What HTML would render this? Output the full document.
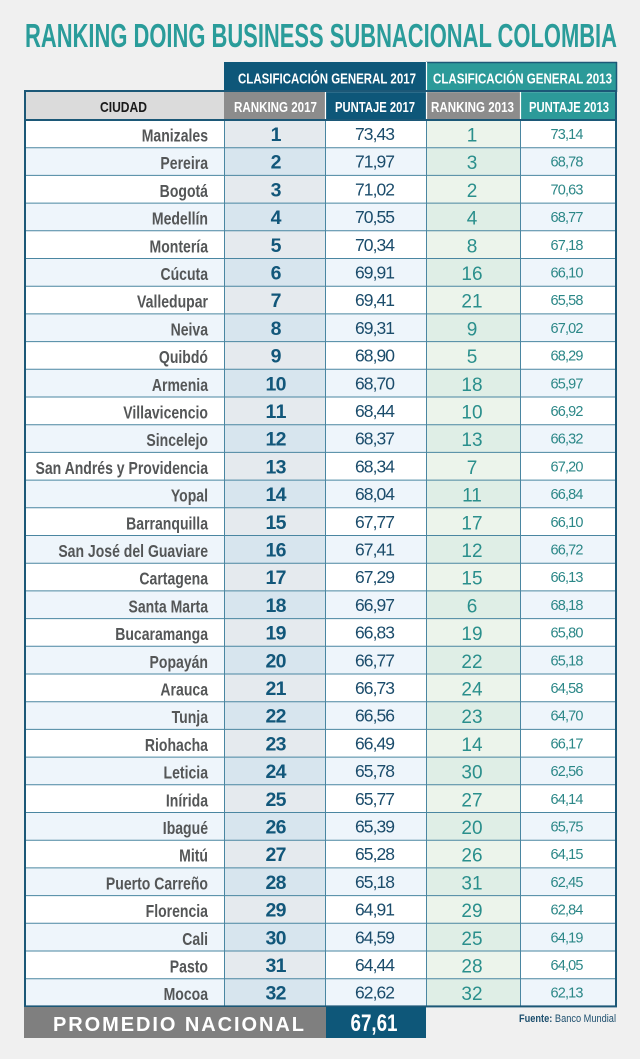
<!DOCTYPE html>
<html><head><meta charset="utf-8">
<style>
html,body{margin:0;padding:0;background:#f0f0f0;}
svg{display:block;}
text{font-family:"Liberation Sans",Arial,sans-serif;}
.t{font-weight:bold;font-size:33px;fill:#2a9c9a;}
.h{font-weight:bold;font-size:14.5px;fill:#fff;text-anchor:middle;}
.hc{font-weight:bold;font-size:15px;fill:#1a1a1a;text-anchor:middle;}
.a .bg{fill:#ffffff}.b .bg{fill:#eef5fb}
.a .k{fill:#e5eaee}.b .k{fill:#d7e5ee}
.a .g{fill:#ecf4eb}.b .g{fill:#dfeee6}
.c{font-weight:bold;font-size:18px;fill:#545657;text-anchor:end;}
.r{font-weight:bold;font-size:19.5px;fill:#12577a;text-anchor:middle;}
.p{font-size:17.5px;fill:#1b4c6b;text-anchor:middle;}
.r3{font-size:19px;fill:#2a8f8c;text-anchor:middle;}
.p3{font-size:14.5px;fill:#2b8787;text-anchor:middle;}
</style></head>
<body>
<svg width="640" height="1059" viewBox="0 0 640 1059" xmlns="http://www.w3.org/2000/svg">
<rect width="640" height="1059" fill="#f0f0f0"/>
<text class="t" x="25" y="47" textLength="592" lengthAdjust="spacingAndGlyphs">RANKING DOING BUSINESS SUBNACIONAL COLOMBIA</text>

<!-- header row 1 -->
<rect x="224" y="62" width="202" height="30" fill="#0e5779"/>
<rect x="426" y="62" width="191" height="30" fill="#2c9a99"/>
<path d="M426 62.5H617M616.5 62V92" stroke="#1c5877" stroke-width="1.5" fill="none"/>
<text class="h" x="327" y="83.5" textLength="178" lengthAdjust="spacingAndGlyphs">CLASIFICACIÓN GENERAL 2017</text>
<text class="h" x="522.5" y="83.5" textLength="179" lengthAdjust="spacingAndGlyphs">CLASIFICACIÓN GENERAL 2013</text>

<!-- header row 2 -->
<rect x="25" y="92" width="199" height="28" fill="#dbdbdb"/>
<rect x="224" y="92" width="101" height="28" fill="#8c8c8c"/>
<rect x="325" y="92" width="101" height="28" fill="#0e5779"/>
<rect x="426" y="92" width="94" height="28" fill="#8c8c8c"/>
<rect x="520" y="92" width="97" height="28" fill="#2c9a99"/>
<path d="M325 91.5H617M325.5 92V120M426.5 62V120M520.5 92V120" stroke="#ffffff" stroke-width="1.2" fill="none"/>
<text class="hc" x="123.5" y="112" textLength="47" lengthAdjust="spacingAndGlyphs">CIUDAD</text>
<text class="h" x="275.5" y="112" textLength="83" lengthAdjust="spacingAndGlyphs">RANKING 2017</text>
<text class="h" x="375" y="112" textLength="80" lengthAdjust="spacingAndGlyphs">PUNTAJE 2017</text>
<text class="h" x="472.5" y="112" textLength="83" lengthAdjust="spacingAndGlyphs">RANKING 2013</text>
<text class="h" x="569" y="112" textLength="80" lengthAdjust="spacingAndGlyphs">PUNTAJE 2013</text>

<!-- rows -->
<g class="a" transform="translate(0,120)"><rect class="bg" x="24" width="593" height="27.7"/><rect class="k" x="224" width="101" height="27.7"/><rect class="g" x="426" width="94" height="27.7"/><text class="c" transform="translate(208 21.5) scale(.78 1)">Manizales</text><text class="r" x="276" y="21">1</text><text class="p" x="375" y="20" textLength="40">73,43</text><text class="r3" x="472" y="21.5">1</text><text class="p3" x="567" y="19" textLength="33">73,14</text></g>
<g class="b" transform="translate(0,147.7)"><rect class="bg" x="24" width="593" height="27.7"/><rect class="k" x="224" width="101" height="27.7"/><rect class="g" x="426" width="94" height="27.7"/><text class="c" transform="translate(208 21.5) scale(.78 1)">Pereira</text><text class="r" x="276" y="21">2</text><text class="p" x="375" y="20" textLength="40">71,97</text><text class="r3" x="472" y="21.5">3</text><text class="p3" x="567" y="19" textLength="33">68,78</text></g>
<g class="a" transform="translate(0,175.4)"><rect class="bg" x="24" width="593" height="27.7"/><rect class="k" x="224" width="101" height="27.7"/><rect class="g" x="426" width="94" height="27.7"/><text class="c" transform="translate(208 21.5) scale(.78 1)">Bogotá</text><text class="r" x="276" y="21">3</text><text class="p" x="375" y="20" textLength="40">71,02</text><text class="r3" x="472" y="21.5">2</text><text class="p3" x="567" y="19" textLength="33">70,63</text></g>
<g class="b" transform="translate(0,203.1)"><rect class="bg" x="24" width="593" height="27.7"/><rect class="k" x="224" width="101" height="27.7"/><rect class="g" x="426" width="94" height="27.7"/><text class="c" transform="translate(208 21.5) scale(.78 1)">Medellín</text><text class="r" x="276" y="21">4</text><text class="p" x="375" y="20" textLength="40">70,55</text><text class="r3" x="472" y="21.5">4</text><text class="p3" x="567" y="19" textLength="33">68,77</text></g>
<g class="a" transform="translate(0,230.8)"><rect class="bg" x="24" width="593" height="27.7"/><rect class="k" x="224" width="101" height="27.7"/><rect class="g" x="426" width="94" height="27.7"/><text class="c" transform="translate(208 21.5) scale(.78 1)">Montería</text><text class="r" x="276" y="21">5</text><text class="p" x="375" y="20" textLength="40">70,34</text><text class="r3" x="472" y="21.5">8</text><text class="p3" x="567" y="19" textLength="33">67,18</text></g>
<g class="b" transform="translate(0,258.5)"><rect class="bg" x="24" width="593" height="27.7"/><rect class="k" x="224" width="101" height="27.7"/><rect class="g" x="426" width="94" height="27.7"/><text class="c" transform="translate(208 21.5) scale(.78 1)">Cúcuta</text><text class="r" x="276" y="21">6</text><text class="p" x="375" y="20" textLength="40">69,91</text><text class="r3" x="472" y="21.5">16</text><text class="p3" x="567" y="19" textLength="33">66,10</text></g>
<g class="a" transform="translate(0,286.2)"><rect class="bg" x="24" width="593" height="27.7"/><rect class="k" x="224" width="101" height="27.7"/><rect class="g" x="426" width="94" height="27.7"/><text class="c" transform="translate(208 21.5) scale(.78 1)">Valledupar</text><text class="r" x="276" y="21">7</text><text class="p" x="375" y="20" textLength="40">69,41</text><text class="r3" x="472" y="21.5">21</text><text class="p3" x="567" y="19" textLength="33">65,58</text></g>
<g class="b" transform="translate(0,313.9)"><rect class="bg" x="24" width="593" height="27.7"/><rect class="k" x="224" width="101" height="27.7"/><rect class="g" x="426" width="94" height="27.7"/><text class="c" transform="translate(208 21.5) scale(.78 1)">Neiva</text><text class="r" x="276" y="21">8</text><text class="p" x="375" y="20" textLength="40">69,31</text><text class="r3" x="472" y="21.5">9</text><text class="p3" x="567" y="19" textLength="33">67,02</text></g>
<g class="a" transform="translate(0,341.6)"><rect class="bg" x="24" width="593" height="27.7"/><rect class="k" x="224" width="101" height="27.7"/><rect class="g" x="426" width="94" height="27.7"/><text class="c" transform="translate(208 21.5) scale(.78 1)">Quibdó</text><text class="r" x="276" y="21">9</text><text class="p" x="375" y="20" textLength="40">68,90</text><text class="r3" x="472" y="21.5">5</text><text class="p3" x="567" y="19" textLength="33">68,29</text></g>
<g class="b" transform="translate(0,369.3)"><rect class="bg" x="24" width="593" height="27.7"/><rect class="k" x="224" width="101" height="27.7"/><rect class="g" x="426" width="94" height="27.7"/><text class="c" transform="translate(208 21.5) scale(.78 1)">Armenia</text><text class="r" x="276" y="21" textLength="21">10</text><text class="p" x="375" y="20" textLength="40">68,70</text><text class="r3" x="472" y="21.5">18</text><text class="p3" x="567" y="19" textLength="33">65,97</text></g>
<g class="a" transform="translate(0,397)"><rect class="bg" x="24" width="593" height="27.7"/><rect class="k" x="224" width="101" height="27.7"/><rect class="g" x="426" width="94" height="27.7"/><text class="c" transform="translate(208 21.5) scale(.78 1)">Villavicencio</text><text class="r" x="276" y="21" textLength="21">11</text><text class="p" x="375" y="20" textLength="40">68,44</text><text class="r3" x="472" y="21.5">10</text><text class="p3" x="567" y="19" textLength="33">66,92</text></g>
<g class="b" transform="translate(0,424.7)"><rect class="bg" x="24" width="593" height="27.7"/><rect class="k" x="224" width="101" height="27.7"/><rect class="g" x="426" width="94" height="27.7"/><text class="c" transform="translate(208 21.5) scale(.78 1)">Sincelejo</text><text class="r" x="276" y="21" textLength="21">12</text><text class="p" x="375" y="20" textLength="40">68,37</text><text class="r3" x="472" y="21.5">13</text><text class="p3" x="567" y="19" textLength="33">66,32</text></g>
<g class="a" transform="translate(0,452.4)"><rect class="bg" x="24" width="593" height="27.7"/><rect class="k" x="224" width="101" height="27.7"/><rect class="g" x="426" width="94" height="27.7"/><text class="c" transform="translate(208 21.5) scale(.78 1)">San Andrés y Providencia</text><text class="r" x="276" y="21" textLength="21">13</text><text class="p" x="375" y="20" textLength="40">68,34</text><text class="r3" x="472" y="21.5">7</text><text class="p3" x="567" y="19" textLength="33">67,20</text></g>
<g class="b" transform="translate(0,480.1)"><rect class="bg" x="24" width="593" height="27.7"/><rect class="k" x="224" width="101" height="27.7"/><rect class="g" x="426" width="94" height="27.7"/><text class="c" transform="translate(208 21.5) scale(.78 1)">Yopal</text><text class="r" x="276" y="21" textLength="21">14</text><text class="p" x="375" y="20" textLength="40">68,04</text><text class="r3" x="472" y="21.5">11</text><text class="p3" x="567" y="19" textLength="33">66,84</text></g>
<g class="a" transform="translate(0,507.8)"><rect class="bg" x="24" width="593" height="27.7"/><rect class="k" x="224" width="101" height="27.7"/><rect class="g" x="426" width="94" height="27.7"/><text class="c" transform="translate(208 21.5) scale(.78 1)">Barranquilla</text><text class="r" x="276" y="21" textLength="21">15</text><text class="p" x="375" y="20" textLength="40">67,77</text><text class="r3" x="472" y="21.5">17</text><text class="p3" x="567" y="19" textLength="33">66,10</text></g>
<g class="b" transform="translate(0,535.5)"><rect class="bg" x="24" width="593" height="27.7"/><rect class="k" x="224" width="101" height="27.7"/><rect class="g" x="426" width="94" height="27.7"/><text class="c" transform="translate(208 21.5) scale(.78 1)">San José del Guaviare</text><text class="r" x="276" y="21" textLength="21">16</text><text class="p" x="375" y="20" textLength="40">67,41</text><text class="r3" x="472" y="21.5">12</text><text class="p3" x="567" y="19" textLength="33">66,72</text></g>
<g class="a" transform="translate(0,563.2)"><rect class="bg" x="24" width="593" height="27.7"/><rect class="k" x="224" width="101" height="27.7"/><rect class="g" x="426" width="94" height="27.7"/><text class="c" transform="translate(208 21.5) scale(.78 1)">Cartagena</text><text class="r" x="276" y="21" textLength="21">17</text><text class="p" x="375" y="20" textLength="40">67,29</text><text class="r3" x="472" y="21.5">15</text><text class="p3" x="567" y="19" textLength="33">66,13</text></g>
<g class="b" transform="translate(0,590.9)"><rect class="bg" x="24" width="593" height="27.7"/><rect class="k" x="224" width="101" height="27.7"/><rect class="g" x="426" width="94" height="27.7"/><text class="c" transform="translate(208 21.5) scale(.78 1)">Santa Marta</text><text class="r" x="276" y="21" textLength="21">18</text><text class="p" x="375" y="20" textLength="40">66,97</text><text class="r3" x="472" y="21.5">6</text><text class="p3" x="567" y="19" textLength="33">68,18</text></g>
<g class="a" transform="translate(0,618.6)"><rect class="bg" x="24" width="593" height="27.7"/><rect class="k" x="224" width="101" height="27.7"/><rect class="g" x="426" width="94" height="27.7"/><text class="c" transform="translate(208 21.5) scale(.78 1)">Bucaramanga</text><text class="r" x="276" y="21" textLength="21">19</text><text class="p" x="375" y="20" textLength="40">66,83</text><text class="r3" x="472" y="21.5">19</text><text class="p3" x="567" y="19" textLength="33">65,80</text></g>
<g class="b" transform="translate(0,646.3)"><rect class="bg" x="24" width="593" height="27.7"/><rect class="k" x="224" width="101" height="27.7"/><rect class="g" x="426" width="94" height="27.7"/><text class="c" transform="translate(208 21.5) scale(.78 1)">Popayán</text><text class="r" x="276" y="21" textLength="21">20</text><text class="p" x="375" y="20" textLength="40">66,77</text><text class="r3" x="472" y="21.5">22</text><text class="p3" x="567" y="19" textLength="33">65,18</text></g>
<g class="a" transform="translate(0,674)"><rect class="bg" x="24" width="593" height="27.7"/><rect class="k" x="224" width="101" height="27.7"/><rect class="g" x="426" width="94" height="27.7"/><text class="c" transform="translate(208 21.5) scale(.78 1)">Arauca</text><text class="r" x="276" y="21" textLength="21">21</text><text class="p" x="375" y="20" textLength="40">66,73</text><text class="r3" x="472" y="21.5">24</text><text class="p3" x="567" y="19" textLength="33">64,58</text></g>
<g class="b" transform="translate(0,701.7)"><rect class="bg" x="24" width="593" height="27.7"/><rect class="k" x="224" width="101" height="27.7"/><rect class="g" x="426" width="94" height="27.7"/><text class="c" transform="translate(208 21.5) scale(.78 1)">Tunja</text><text class="r" x="276" y="21" textLength="21">22</text><text class="p" x="375" y="20" textLength="40">66,56</text><text class="r3" x="472" y="21.5">23</text><text class="p3" x="567" y="19" textLength="33">64,70</text></g>
<g class="a" transform="translate(0,729.4)"><rect class="bg" x="24" width="593" height="27.7"/><rect class="k" x="224" width="101" height="27.7"/><rect class="g" x="426" width="94" height="27.7"/><text class="c" transform="translate(208 21.5) scale(.78 1)">Riohacha</text><text class="r" x="276" y="21" textLength="21">23</text><text class="p" x="375" y="20" textLength="40">66,49</text><text class="r3" x="472" y="21.5">14</text><text class="p3" x="567" y="19" textLength="33">66,17</text></g>
<g class="b" transform="translate(0,757.1)"><rect class="bg" x="24" width="593" height="27.7"/><rect class="k" x="224" width="101" height="27.7"/><rect class="g" x="426" width="94" height="27.7"/><text class="c" transform="translate(208 21.5) scale(.78 1)">Leticia</text><text class="r" x="276" y="21" textLength="21">24</text><text class="p" x="375" y="20" textLength="40">65,78</text><text class="r3" x="472" y="21.5">30</text><text class="p3" x="567" y="19" textLength="33">62,56</text></g>
<g class="a" transform="translate(0,784.8)"><rect class="bg" x="24" width="593" height="27.7"/><rect class="k" x="224" width="101" height="27.7"/><rect class="g" x="426" width="94" height="27.7"/><text class="c" transform="translate(208 21.5) scale(.78 1)">Inírida</text><text class="r" x="276" y="21" textLength="21">25</text><text class="p" x="375" y="20" textLength="40">65,77</text><text class="r3" x="472" y="21.5">27</text><text class="p3" x="567" y="19" textLength="33">64,14</text></g>
<g class="b" transform="translate(0,812.5)"><rect class="bg" x="24" width="593" height="27.7"/><rect class="k" x="224" width="101" height="27.7"/><rect class="g" x="426" width="94" height="27.7"/><text class="c" transform="translate(208 21.5) scale(.78 1)">Ibagué</text><text class="r" x="276" y="21" textLength="21">26</text><text class="p" x="375" y="20" textLength="40">65,39</text><text class="r3" x="472" y="21.5">20</text><text class="p3" x="567" y="19" textLength="33">65,75</text></g>
<g class="a" transform="translate(0,840.2)"><rect class="bg" x="24" width="593" height="27.7"/><rect class="k" x="224" width="101" height="27.7"/><rect class="g" x="426" width="94" height="27.7"/><text class="c" transform="translate(208 21.5) scale(.78 1)">Mitú</text><text class="r" x="276" y="21" textLength="21">27</text><text class="p" x="375" y="20" textLength="40">65,28</text><text class="r3" x="472" y="21.5">26</text><text class="p3" x="567" y="19" textLength="33">64,15</text></g>
<g class="b" transform="translate(0,867.9)"><rect class="bg" x="24" width="593" height="27.7"/><rect class="k" x="224" width="101" height="27.7"/><rect class="g" x="426" width="94" height="27.7"/><text class="c" transform="translate(208 21.5) scale(.78 1)">Puerto Carreño</text><text class="r" x="276" y="21" textLength="21">28</text><text class="p" x="375" y="20" textLength="40">65,18</text><text class="r3" x="472" y="21.5">31</text><text class="p3" x="567" y="19" textLength="33">62,45</text></g>
<g class="a" transform="translate(0,895.6)"><rect class="bg" x="24" width="593" height="27.7"/><rect class="k" x="224" width="101" height="27.7"/><rect class="g" x="426" width="94" height="27.7"/><text class="c" transform="translate(208 21.5) scale(.78 1)">Florencia</text><text class="r" x="276" y="21" textLength="21">29</text><text class="p" x="375" y="20" textLength="40">64,91</text><text class="r3" x="472" y="21.5">29</text><text class="p3" x="567" y="19" textLength="33">62,84</text></g>
<g class="b" transform="translate(0,923.3)"><rect class="bg" x="24" width="593" height="27.7"/><rect class="k" x="224" width="101" height="27.7"/><rect class="g" x="426" width="94" height="27.7"/><text class="c" transform="translate(208 21.5) scale(.78 1)">Cali</text><text class="r" x="276" y="21" textLength="21">30</text><text class="p" x="375" y="20" textLength="40">64,59</text><text class="r3" x="472" y="21.5">25</text><text class="p3" x="567" y="19" textLength="33">64,19</text></g>
<g class="a" transform="translate(0,951)"><rect class="bg" x="24" width="593" height="27.7"/><rect class="k" x="224" width="101" height="27.7"/><rect class="g" x="426" width="94" height="27.7"/><text class="c" transform="translate(208 21.5) scale(.78 1)">Pasto</text><text class="r" x="276" y="21" textLength="21">31</text><text class="p" x="375" y="20" textLength="40">64,44</text><text class="r3" x="472" y="21.5">28</text><text class="p3" x="567" y="19" textLength="33">64,05</text></g>
<g class="b" transform="translate(0,978.7)"><rect class="bg" x="24" width="593" height="27.7"/><rect class="k" x="224" width="101" height="27.7"/><rect class="g" x="426" width="94" height="27.7"/><text class="c" transform="translate(208 21.5) scale(.78 1)">Mocoa</text><text class="r" x="276" y="21" textLength="21">32</text><text class="p" x="375" y="20" textLength="40">62,62</text><text class="r3" x="472" y="21.5">32</text><text class="p3" x="567" y="19" textLength="33">62,13</text></g>

<!-- grid -->
<path d="M24 147.7H617M24 175.4H617M24 203.1H617M24 230.8H617M24 258.5H617M24 286.2H617M24 313.9H617M24 341.6H617M24 369.3H617M24 397H617M24 424.7H617M24 452.4H617M24 480.1H617M24 507.8H617M24 535.5H617M24 563.2H617M24 590.9H617M24 618.6H617M24 646.3H617M24 674H617M24 701.7H617M24 729.4H617M24 757.1H617M24 784.8H617M24 812.5H617M24 840.2H617M24 867.9H617M24 895.6H617M24 923.3H617M24 951H617M24 978.7H617M224.5 120V1006M325.5 120V1006M426.5 120V1006M520.5 120V1006" stroke="#4a86a1" stroke-width="1" fill="none"/>
<path d="M24 120H617" stroke="#1c5877" stroke-width="2" fill="none"/>
<path d="M224 91H325" stroke="#1c5877" stroke-width="1.5" fill="none"/>
<rect x="25" y="91" width="591" height="915.4" fill="none" stroke="#1c5877" stroke-width="2"/>

<!-- promedio -->
<rect x="24" y="1007" width="302" height="31" fill="#7f7f7f"/>
<rect x="326" y="1007" width="100" height="31" fill="#0e5779"/>
<text x="53" y="1031" font-weight="bold" font-size="20" fill="#ffffff" textLength="251" lengthAdjust="spacing">PROMEDIO NACIONAL</text>
<text x="374" y="1031" font-weight="bold" font-size="24" fill="#ffffff" text-anchor="middle" textLength="47" lengthAdjust="spacingAndGlyphs">67,61</text>

<text x="519" y="1022" font-size="11" fill="#1d4f6e" textLength="97" lengthAdjust="spacingAndGlyphs"><tspan font-weight="bold">Fuente:</tspan> Banco Mundial</text>
</svg>
</body></html>
